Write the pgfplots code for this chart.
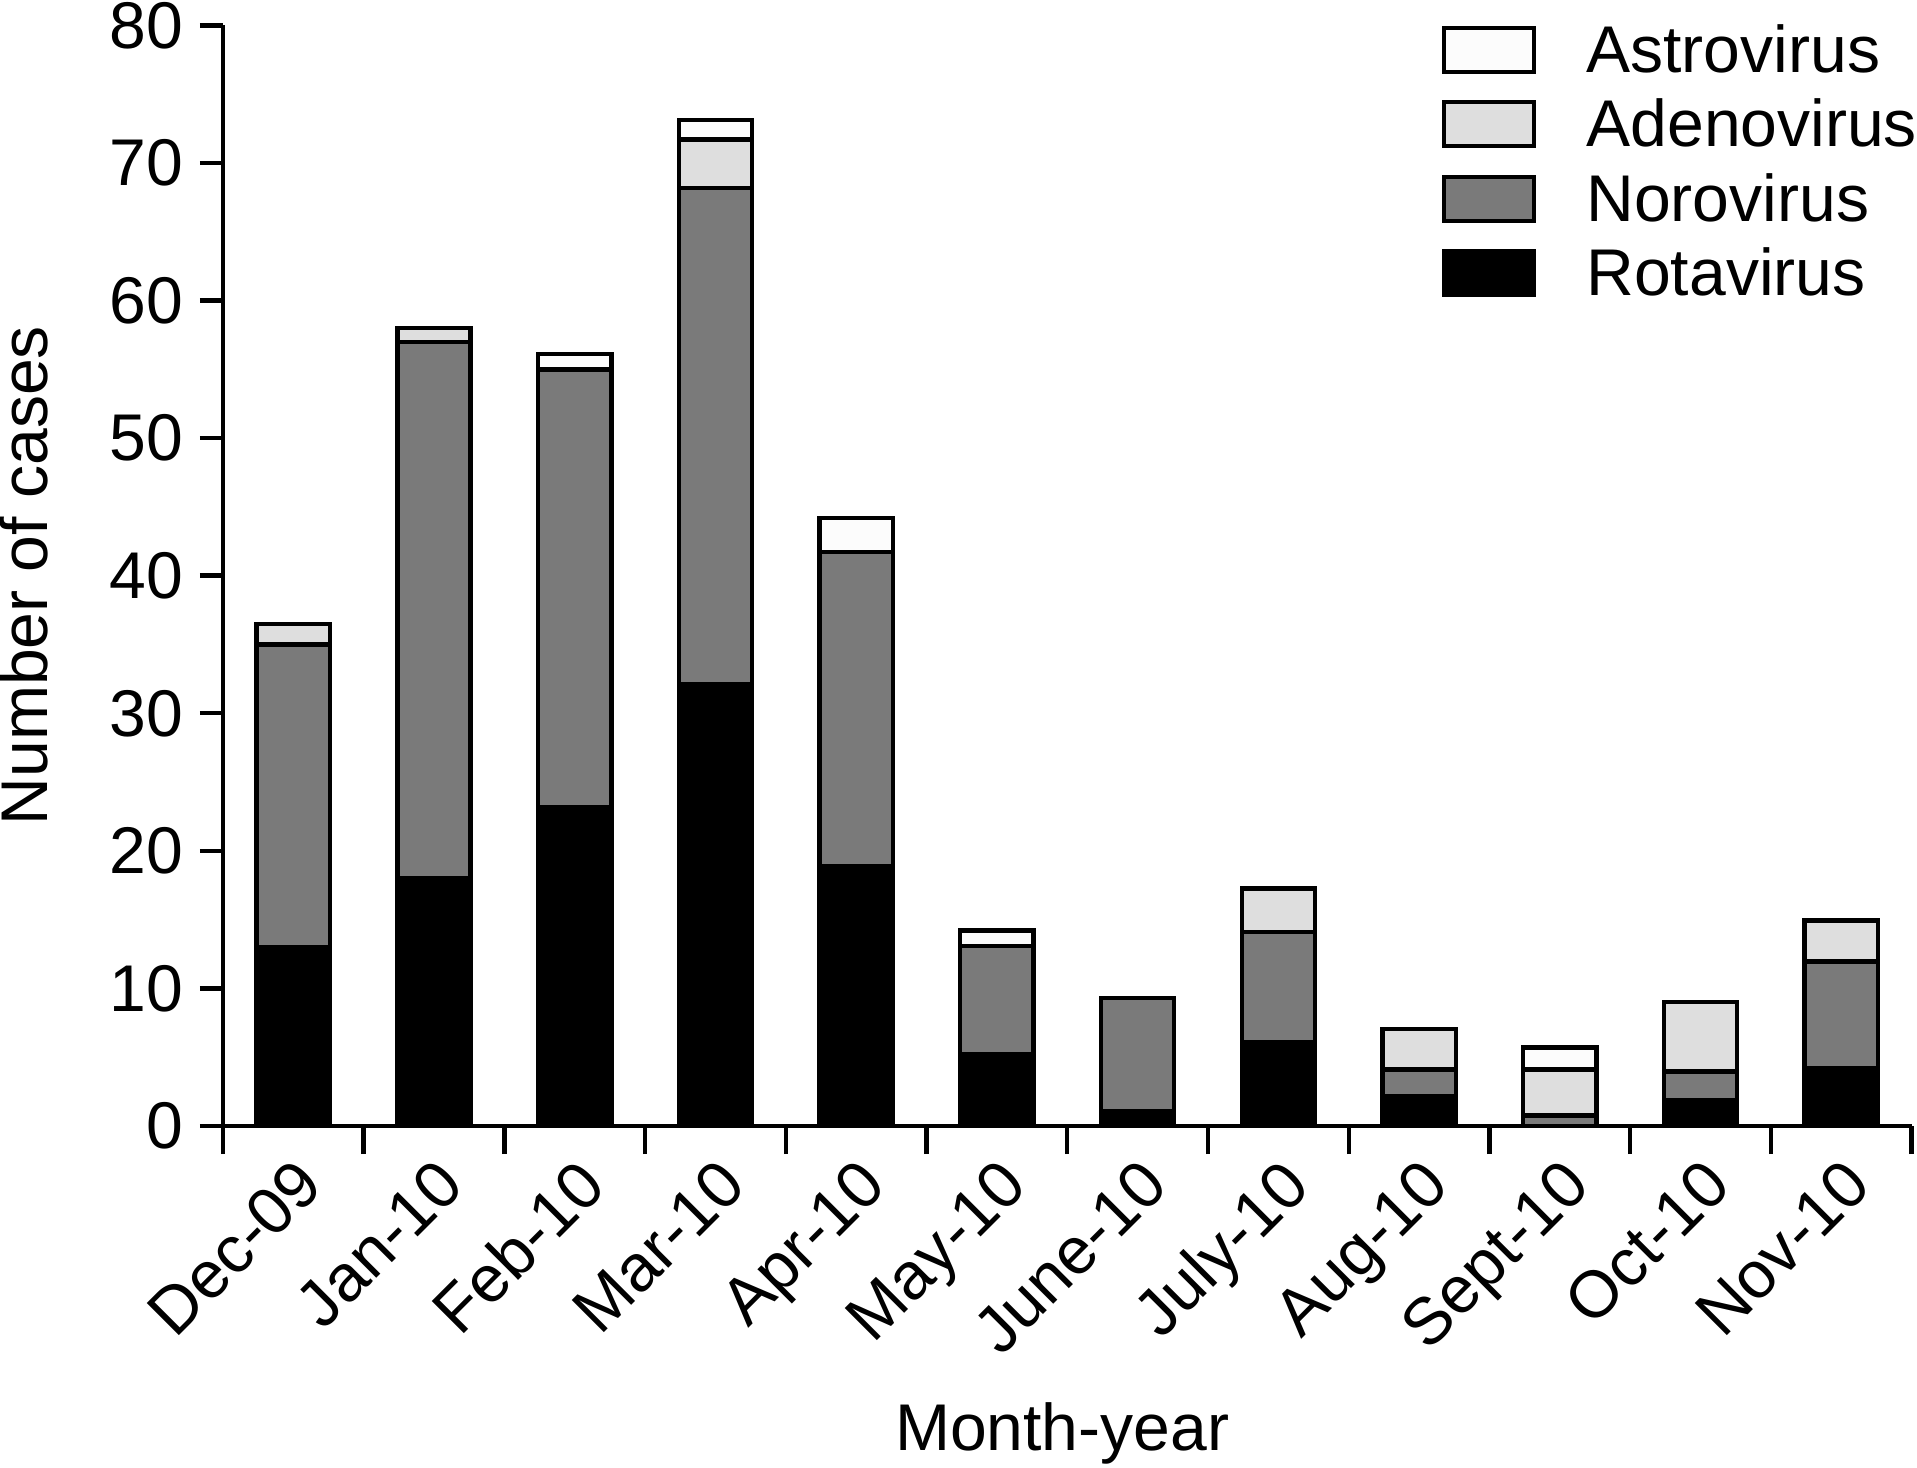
\documentclass[border=0pt]{standalone}
\usepackage{pgfplots}
\pgfplotsset{compat=1.18}
\usepackage{pgfplotstable}
\usepackage{fontspec}
\setmainfont{Liberation Sans}

\definecolor{noro}{HTML}{7A7A7A}
\definecolor{adeno}{HTML}{DEDEDE}
\definecolor{astro}{HTML}{FCFCFC}

\pgfplotstableread{
x rota noro adeno astro
0 13.0 22.0 1.5 0
1 18.0 39.0 1.0 0
2 23.2 31.8 0 1.1
3 32.1 36.1 3.5 1.4
4 18.9 22.8 0 2.5
5 5.2 7.9 0 1.1
6 1.1 8.2 0 0
7 6.1 8.0 3.15 0
8 2.2 1.9 2.95 0
9 0 0.75 3.35 1.6
10 1.85 2.1 5.05 0
11 4.2 7.75 3.0 0
}\data

\newcommand{\fs}{\fontsize{16.5}{19}\selectfont}

\begin{document}
\begin{tikzpicture}
\begin{axis}[
  scale only axis,
  width=421.75pt, height=274.9pt,
  xmin=-0.5, xmax=11.5, ymin=0, ymax=80,
  axis x line*=bottom, axis y line*=left,
  axis line style={line width=1.1pt},
  every tick/.style={black, line width=1.1pt},
  tick align=outside,
  major tick length=5.75pt,
  minor tick length=7pt,
  ytick={0,10,...,80},
  xtick={0,...,11},
  xticklabels={Dec-09,Jan-10,Feb-10,Mar-10,Apr-10,May-10,June-10,July-10,Aug-10,Sept-10,Oct-10,Nov-10},
  major x tick style={draw=none},
  minor xtick={-0.5,0.5,...,11.5},
  /pgf/number format/assume math mode=true,
  tick label style={font=\fs},
  yticklabel style={inner xsep=4pt, inner ysep=0.5pt},
  xticklabel style={rotate=45, anchor=north east, inner sep=1pt},
  ylabel={Number of cases},
  xlabel={Month-year},
  label style={font=\fs},
  ylabel style={at={(axis description cs:-0.1325,0.5)}, anchor=north, inner sep=0pt},
  xlabel style={at={(axis description cs:0.497,-0.3114)}, anchor=south, inner xsep=0pt, inner ysep=1pt},
  ybar stacked,
  bar width=18.3pt,
  reverse legend,
  legend style={at={(0.7214,1)}, yshift=0.5pt, anchor=north west, draw=none, fill=none, inner sep=0pt,
    row sep=3.6pt, font=\fs, legend cell align=left,
    nodes={inner sep=0pt, text height=12pt, text depth=3pt},
    /tikz/every odd column/.append style={column sep=12.5pt}},
  legend image code/.code={\draw[#1] (0pt,-4.4pt) rectangle (22.5pt,6.6pt);},
]
\addplot[fill=black, draw=black, line width=1.1pt] table[x=x, y=rota] {\data};
\addplot[fill=noro, draw=black, line width=1.1pt] table[x=x, y=noro] {\data};
\addplot[fill=adeno, draw=black, line width=1.1pt] table[x=x, y=adeno] {\data};
\addplot[fill=astro, draw=black, line width=1.1pt] table[x=x, y=astro] {\data};
\legend{Rotavirus, Norovirus, Adenovirus, Astrovirus}
\end{axis}
\end{tikzpicture}
\end{document}
